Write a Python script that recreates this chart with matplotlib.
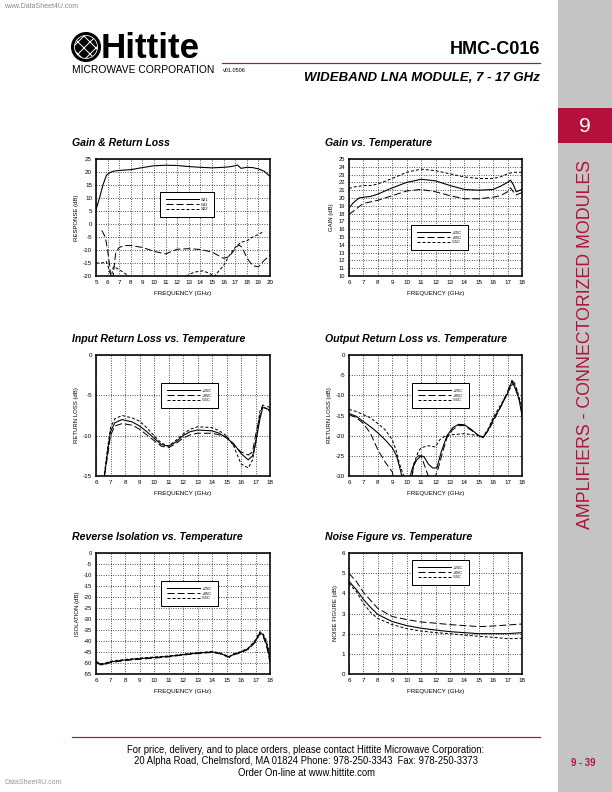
import numpy as np
import matplotlib
matplotlib.use("Agg")
import matplotlib.pyplot as plt
from matplotlib.patches import Rectangle, Circle
from matplotlib.lines import Line2D

plt.rcParams['font.family'] = ['Liberation Sans', 'DejaVu Sans']
plt.rcParams['axes.unicode_minus'] = False

# ---- data ----
# Gain & Return Loss (5-20 GHz)
f_s21 = [5.0, 5.3, 5.6, 5.9, 6.2, 6.5, 7, 8, 9, 10, 11, 12, 13, 14, 15, 16, 16.5, 17, 17.2, 17.5, 18, 18.5, 19, 19.5, 20]
s21 = [5.5, 10, 15, 18.8, 19.8, 20.3, 20.6, 20.9, 21.7, 22.4, 22.6, 22.5, 22.1, 21.8, 21.6, 21.8, 22.0, 22.4, 22.7, 21.4, 21.8, 21.7, 21.2, 20.3, 18.3]
f_s11 = [5.5, 5.8, 6.0, 6.15, 6.3, 6.45, 6.55, 6.7, 7.0, 7.5, 8, 9, 10, 11, 12, 13, 14, 15, 15.5, 16, 16.5, 17, 17.3, 17.6, 18, 18.5, 19, 19.5, 20]
s11 = [-2.5, -5, -10, -15, -21, -21, -17, -11, -9, -8.3, -8.3, -9, -10.5, -11.5, -9.7, -9.5, -9.8, -10.8, -12, -13.2, -12.5, -9.5, -8, -9, -13, -16, -16.5, -14, -12]
f_s22 = [5.0, 5.5, 5.9, 6.1, 6.3, 6.5, 6.8, 7.5, 8, 12.5, 13, 13.5, 14.2, 14.8, 15.2, 15.6, 16, 16.5, 17, 17.5, 18, 18.5, 19, 19.5]
s22 = [-15, -15, -14.5, -17, -20.5, -16.5, -17, -19, -21, -21, -19.5, -18.5, -18, -19, -20.2, -18, -16, -12, -9, -7, -6.5, -5, -4, -2.8]

# Gain vs Temperature
f_gain = [6.0, 6.3, 6.7, 7, 7.5, 8, 9, 10, 11, 12, 13, 14, 15, 16, 16.5, 17, 17.2, 17.4, 17.6, 18]
gain_25 = [18.7, 19.4, 20.0, 20.1, 20.2, 20.5, 21.3, 22.0, 22.4, 22.2, 21.6, 21.1, 21.0, 21.1, 21.5, 22.0, 22.3, 21.7, 20.8, 21.1]
gain_85 = [17.9, 18.3, 18.9, 19.3, 19.5, 19.7, 20.3, 20.9, 21.1, 20.8, 20.3, 19.9, 19.9, 20.1, 20.3, 20.8, 21.3, 20.8, 20.4, 20.7]
gain_m55 = [21.2, 21.4, 21.5, 21.6, 21.6, 21.8, 22.5, 23.3, 23.7, 23.5, 23.1, 22.7, 22.5, 22.5, 22.7, 23.1, 23.2, 23.3, 23.3, 23.3]

# Input Return Loss vs Temperature
f_irl = [6.5, 6.8, 7.0, 7.3, 7.8, 8.5, 9, 9.5, 10, 10.5, 11, 11.5, 12, 12.5, 13, 14, 14.5, 15, 15.5, 16, 16.5, 16.8, 17, 17.3, 17.5, 18]
irl_25 = [-16, -12, -9.5, -8.4, -8.0, -8.3, -8.8, -9.5, -10.3, -11.1, -11.3, -10.8, -10.0, -9.5, -9.3, -9.4, -9.7, -10.3, -11.0, -12.2, -13.0, -12.5, -11.0, -8.0, -6.5, -6.8]
irl_85 = [-16, -12.5, -10, -8.8, -8.5, -8.7, -9.2, -9.9, -10.6, -11.3, -11.5, -11.0, -10.3, -9.9, -9.7, -9.7, -9.9, -10.1, -11.2, -12.0, -12.4, -12.0, -10.0, -7.5, -6.2, -6.5]
irl_m55 = [-16, -11.5, -9, -7.9, -7.5, -7.8, -8.2, -9.0, -10.0, -10.9, -11.3, -10.6, -9.8, -9.2, -8.9, -9.0, -9.4, -10.0, -11.3, -13.5, -14.0, -13.0, -11.0, -7.0, -6.3, -7.0]

# Output Return Loss vs Temperature
f_orl_25 = [6, 6.5, 7, 7.5, 8, 8.5, 9, 9.3, 9.6, 9.75, 10.1, 10.4, 10.7, 11, 11.2, 11.5, 11.8, 12.1, 12.4, 12.8, 13.2, 13.6, 14, 14.5, 15, 15.3, 15.6, 16, 16.5, 17, 17.3, 17.5, 17.8, 18]
orl_25 = [-14.5, -15.2, -16.5, -17.8, -19.3, -21, -23, -25, -29, -32, -32, -28, -26, -25, -25.2, -27, -28, -28, -24, -20, -18, -17.2, -17.3, -18.5, -20, -20.5, -19, -16, -13, -9.5, -6.5, -8, -11, -15]
f_orl_85 = [6, 6.5, 7, 7.5, 8, 8.5, 9, 9.2, 10.3, 10.5, 10.8, 11, 11.3, 11.6, 11.8, 12.2, 12.5, 12.8, 13.2, 13.6, 14, 14.5, 15, 15.3, 15.7, 16, 16.5, 17, 17.3, 17.5, 17.8, 18]
orl_85 = [-14.8, -15.5, -17, -19.5, -23.5, -26.5, -29, -32, -32, -27, -25, -25, -28, -31, -32, -28, -24, -20.5, -18.5, -17.5, -17.5, -18.7, -20, -20.3, -18.5, -16.5, -13, -9, -6.3, -7, -11, -14]
f_orl_m55 = [6, 6.5, 7, 7.5, 8, 8.5, 9, 9.3, 9.5, 9.8, 10.0, 10.3, 10.5, 10.8, 11, 11.5, 12, 12.3, 12.7, 13, 14, 15, 15.3, 15.7, 16, 16.5, 17, 17.4, 17.6, 18]
orl_m55 = [-13.5, -14, -14.8, -15.6, -17, -18.5, -21, -24, -27, -30, -32, -32, -27, -24, -23, -22.5, -22.8, -21, -20, -19.8, -19.5, -20, -20.3, -18, -15.5, -12.5, -9.5, -6.8, -8, -13]

# Reverse Isolation vs Temperature
f_iso = [6, 6.3, 6.5, 7, 8, 9, 10, 11, 12, 13, 14, 14.5, 15, 15.2, 15.5, 16, 16.5, 17, 17.3, 17.5, 17.7, 17.9, 18]
iso_25 = [-49.5, -50.5, -50.6, -49.5, -48.6, -48.0, -47.5, -47.0, -46.2, -45.5, -45.0, -45.5, -46.8, -47.2, -46.0, -45.0, -43.5, -40.0, -36.3, -37.0, -40.0, -45.0, -49.0]
iso_85 = [-49.8, -50.8, -50.9, -49.8, -48.9, -48.3, -47.8, -47.2, -46.4, -45.7, -45.2, -45.7, -47.0, -47.4, -46.3, -45.3, -43.8, -40.5, -36.8, -37.5, -41.0, -46.0, -50.5]
iso_m55 = [-49.3, -50.2, -50.3, -49.2, -48.4, -47.8, -47.3, -46.8, -46.0, -45.3, -44.8, -45.3, -46.6, -47.0, -45.8, -44.8, -43.2, -39.5, -35.8, -36.5, -39.0, -43.5, -47.5]

# Noise Figure vs Temperature
f_nf = [6, 6.3, 6.5, 7, 7.5, 8, 9, 10, 11, 12, 13, 14, 15, 16, 17, 18]
nf_25 = [4.6, 4.35, 4.2, 3.7, 3.3, 2.95, 2.6, 2.4, 2.27, 2.18, 2.1, 2.05, 2.0, 2.0, 2.0, 2.05]
nf_85 = [5.0, 4.75, 4.6, 4.05, 3.65, 3.25, 2.85, 2.7, 2.58, 2.52, 2.45, 2.4, 2.35, 2.38, 2.43, 2.48]
nf_m55 = [4.5, 4.25, 4.1, 3.5, 3.05, 2.75, 2.45, 2.25, 2.13, 2.05, 2.0, 1.93, 1.87, 1.82, 1.75, 1.77]

temp_labels = ['+25C', '+85C', '-55C']
sparam_labels = ['S21', 'S11', 'S22']

W, H = 612, 792
RED = '#b5103c'
GRAY = '#c4c4c4'
LONG = (0, (7, 3))
SHORT = (0, (3, 2))

fig = plt.figure(figsize=(W / 72, H / 72), dpi=72)

# page decoration in pixel coordinates
page = fig.add_axes([0, 0, 1, 1], zorder=0)
page.set_xlim(0, W)
page.set_ylim(H, 0)
page.axis('off')

page.add_patch(Rectangle((558, 0), W - 558, H, color=GRAY, lw=0))
page.add_patch(Rectangle((558, 108), W - 558, 35, color=RED, lw=0))
page.text(585, 126, '9', color='white', fontsize=21, ha='center', va='center')
page.text(585, 344, 'AMPLIFIERS - CONNECTORIZED MODULES', color=RED, fontsize=17.8,
          rotation=90, ha='center', va='center')

page.text(4, 7, 'www.DataSheet4U.com', color='#888888', fontsize=7, va='center')
page.add_patch(Circle((86, 47), 14.5, color='black'))
page.add_patch(Circle((86, 47), 11.5, facecolor='none', edgecolor='white', hatch='xx', lw=0.8))
page.text(101, 48, 'Hittite', fontsize=35, fontweight='black', va='center', ha='left')
page.text(72, 70, 'MICROWAVE CORPORATION', fontsize=10.3, va='center', ha='left')
page.text(223, 70, 'v01.0506', fontsize=5.5, va='center', ha='left')
page.text(540, 50, 'HMC-C016', fontsize=18, fontweight='bold', ha='right', va='center')
page.plot([222, 540], [63, 63], color=RED, lw=1.2)
page.text(540, 78, 'WIDEBAND LNA MODULE, 7 - 17 GHz', fontsize=13.3, fontweight='bold',
          fontstyle='italic', ha='right', va='center')

page.plot([72, 540], [737, 737], color=RED, lw=1.2)
footer = ['For price, delivery, and to place orders, please contact Hittite Microwave Corporation:',
          '20 Alpha Road, Chelmsford, MA 01824 Phone: 978-250-3343  Fax: 978-250-3373',
          'Order On-line at www.hittite.com']
for i, line in enumerate(footer):
    page.text(306, 750 + i * 11.5, line, fontsize=9.5, ha='center', va='center')
page.text(583, 763, '9 - 39', color=RED, fontsize=9.5, fontweight='bold', ha='center', va='center')
page.text(4, 783, 'DataSheet4U.com', color='#999999', fontsize=7, va='center')


def make_ax(px, title, xlim, ylim, yticks, ylabel):
    left, top, right, bottom = px
    ax = fig.add_axes([left / W, 1 - bottom / H, (right - left) / W, (bottom - top) / H], zorder=2)
    ax.set_xlim(*xlim)
    ax.set_ylim(*ylim)
    ax.set_xticks(np.arange(xlim[0], xlim[1] + 1, 1))
    ax.set_yticks(yticks)
    ax.grid(True, color='black', linestyle=(0, (1, 2)), linewidth=0.8)
    for s in ax.spines.values():
        s.set_linewidth(1.6)
    ax.tick_params(length=0, labelsize=6.2, pad=4)
    ax.set_xlabel('FREQUENCY (GHz)', fontsize=6.3, labelpad=6)
    ax.set_ylabel(ylabel, fontsize=6.0, labelpad=4)
    fig.text((left - 24) / W, 1 - (top - 16) / H, title, fontsize=10.5, fontweight='bold',
             fontstyle='italic', ha='left', va='center')
    return ax


def add_legend(ax, labels, box_px, ax_px):
    left, top, right, bottom = ax_px
    bx, by = box_px
    handles = [Line2D([], [], color='black', lw=1.0, linestyle=ls) for ls in ['-', LONG, SHORT]]
    leg = ax.legend(handles, labels, loc='upper left',
                    bbox_to_anchor=((bx - left) / (right - left), (bottom - by) / (bottom - top)),
                    fontsize=4.2, frameon=True, fancybox=False, edgecolor='black', framealpha=1,
                    handlelength=8.0, handletextpad=0.3, labelspacing=0.15, borderpad=1.4,
                    borderaxespad=0)
    leg.get_frame().set_linewidth(1.0)


p1 = (96, 159, 270, 276)
p2 = (349, 159, 522, 276)
p3 = (96, 355, 270, 476)
p4 = (349, 355, 522, 476)
p5 = (96, 553, 270, 674)
p6 = (349, 553, 522, 674)

ax1 = make_ax(p1, 'Gain & Return Loss', (5, 20), (-20, 25), np.arange(-20, 26, 5), 'RESPONSE (dB)')
ax1.plot(f_s21, s21, color='black', lw=1.1)
ax1.plot(f_s11, s11, color='black', lw=1.0, linestyle=LONG)
ax1.plot(f_s22, s22, color='black', lw=1.0, linestyle=SHORT)
add_legend(ax1, sparam_labels, (160, 192), p1)

ax2 = make_ax(p2, 'Gain vs. Temperature', (6, 18), (10, 25), np.arange(10, 26, 1), 'GAIN (dB)')
ax2.tick_params(axis='y', labelsize=5.8)
ax2.plot(f_gain, gain_25, color='black', lw=1.1)
ax2.plot(f_gain, gain_85, color='black', lw=1.0, linestyle=LONG)
ax2.plot(f_gain, gain_m55, color='black', lw=1.0, linestyle=SHORT)
add_legend(ax2, temp_labels, (411, 225), p2)

ax3 = make_ax(p3, 'Input Return Loss vs. Temperature', (6, 18), (-15, 0), [-15, -10, -5, 0], 'RETURN LOSS (dB)')
ax3.plot(f_irl, irl_25, color='black', lw=1.1)
ax3.plot(f_irl, irl_85, color='black', lw=1.0, linestyle=LONG)
ax3.plot(f_irl, irl_m55, color='black', lw=1.0, linestyle=SHORT)
add_legend(ax3, temp_labels, (161, 383), p3)

ax4 = make_ax(p4, 'Output Return Loss vs. Temperature', (6, 18), (-30, 0), np.arange(-30, 1, 5), 'RETURN LOSS (dB)')
ax4.plot(f_orl_25, orl_25, color='black', lw=1.1)
ax4.plot(f_orl_85, orl_85, color='black', lw=1.0, linestyle=LONG)
ax4.plot(f_orl_m55, orl_m55, color='black', lw=1.0, linestyle=SHORT)
add_legend(ax4, temp_labels, (412, 383), p4)

ax5 = make_ax(p5, 'Reverse Isolation vs. Temperature', (6, 18), (-55, 0), np.arange(-55, 1, 5), 'ISOLATION (dB)')
ax5.tick_params(axis='y', labelsize=5.8)
ax5.plot(f_iso, iso_25, color='black', lw=1.1)
ax5.plot(f_iso, iso_85, color='black', lw=1.0, linestyle=LONG)
ax5.plot(f_iso, iso_m55, color='black', lw=1.0, linestyle=SHORT)
add_legend(ax5, temp_labels, (161, 581), p5)

ax6 = make_ax(p6, 'Noise Figure vs. Temperature', (6, 18), (0, 6), np.arange(0, 7, 1), 'NOISE FIGURE (dB)')
ax6.plot(f_nf, nf_25, color='black', lw=1.1)
ax6.plot(f_nf, nf_85, color='black', lw=1.0, linestyle=LONG)
ax6.plot(f_nf, nf_m55, color='black', lw=1.0, linestyle=SHORT)
add_legend(ax6, temp_labels, (412, 560), p6)

fig.savefig('out.png', dpi=72)
